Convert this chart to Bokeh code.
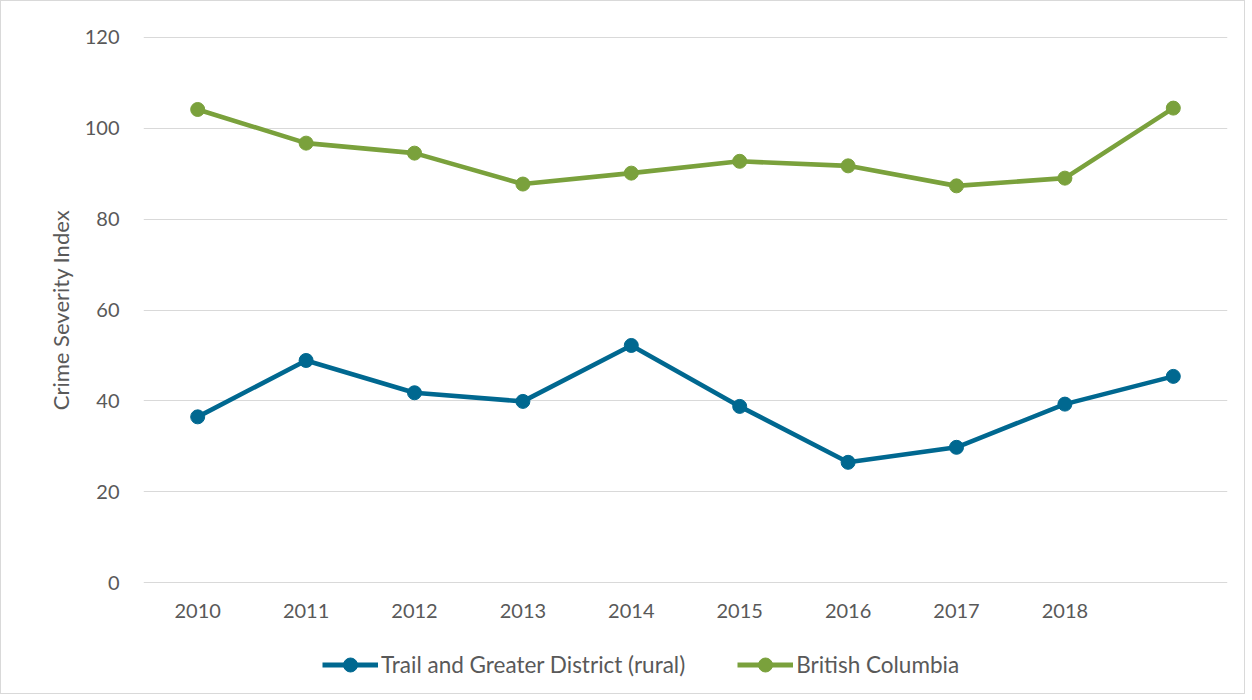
from bokeh.plotting import figure
from bokeh.layouts import column
from bokeh.models import FixedTicker, Legend, LegendItem, Range1d
from bokeh.embed import file_html
from bokeh.resources import INLINE

categories = ["2010", "2011", "2012", "2013", "2014", "2015", "2016", "2017", "2018", ""]
trail_values = [36.5, 48.9, 41.8, 39.9, 52.2, 38.8, 26.5, 29.8, 39.3, 45.4]
bc_values = [104.1, 96.7, 94.5, 87.7, 90.1, 92.7, 91.7, 87.3, 89.0, 104.4]
series_names = ["Trail and Greater District (rural)", "British Columbia"]
y_ticks = [0, 20, 40, 60, 80, 100, 120]

FONT = "Lato"
TEXT = "#595959"
GRID = "#d9d9d9"
BLUE = "#006890"
GREEN = "#7aa13c"

xs = list(range(len(categories)))
series = [(series_names[0], trail_values, BLUE), (series_names[1], bc_values, GREEN)]

p = figure(frame_width=1084, frame_height=547, output_backend="svg", toolbar_location=None,
           x_range=Range1d(-0.5, len(categories) - 0.5), y_range=Range1d(-0.15, 120.15),
           min_border_left=142, min_border_right=17, min_border_top=35, min_border_bottom=50)
p.outline_line_color = None
p.background_fill_color = "white"

p.xgrid.grid_line_color = None
p.ygrid.grid_line_color = GRID
p.ygrid.grid_line_width = 1

p.xaxis.ticker = FixedTicker(ticks=xs)
p.xaxis.major_label_overrides = {i: c for i, c in zip(xs, categories)}
p.yaxis.ticker = FixedTicker(ticks=y_ticks)
for ax in (p.xaxis, p.yaxis):
    ax.axis_line_color = None
    ax.major_tick_line_color = None
    ax.minor_tick_line_color = None
    ax.major_label_text_font = FONT
    ax.major_label_text_font_size = "20px"
    ax.major_label_text_color = TEXT
p.xaxis.major_label_standoff = 14
p.yaxis.major_label_standoff = 18
p.yaxis.axis_label = "Crime Severity Index"
p.yaxis.axis_label_text_font = FONT
p.yaxis.axis_label_text_font_size = "22px"
p.yaxis.axis_label_text_font_style = "normal"
p.yaxis.axis_label_text_color = TEXT
p.yaxis.axis_label_standoff = 8

for name, vals, col in series:
    p.line(xs, vals, line_color=col, line_width=4.6)
    p.scatter(xs, vals, size=14, fill_color=col, line_color=col)

# legend panel below the chart (same series drawn out of view, only their legend shows)
lg = figure(width=1243, height=60, output_backend="svg", toolbar_location=None,
            x_range=Range1d(1000, 1001), y_range=Range1d(1000, 1001),
            min_border_left=0, min_border_right=0, min_border_top=0, min_border_bottom=0)
lg.axis.visible = False
lg.grid.visible = False
lg.outline_line_color = None
items = []
for name, vals, col in series:
    l = lg.line(xs, vals, line_color=col, line_width=5)
    s = lg.scatter(xs, vals, size=14, fill_color=col, line_color=col)
    items.append(LegendItem(label=name, renderers=[l, s]))

legend = Legend(items=items, orientation="horizontal", location=(179, 11),
                label_text_font=FONT, label_text_font_size="22.5px", label_text_color=TEXT,
                glyph_width=56, glyph_height=35, label_standoff=3, spacing=52,
                border_line_color=None, background_fill_alpha=0, margin=0, padding=0)
lg.add_layout(legend, "center")

layout = column(p, lg, spacing=0)
layout.styles = {"border": "1px solid #d9d9d9"}

open("out.html", "w").write(file_html(layout, INLINE))
